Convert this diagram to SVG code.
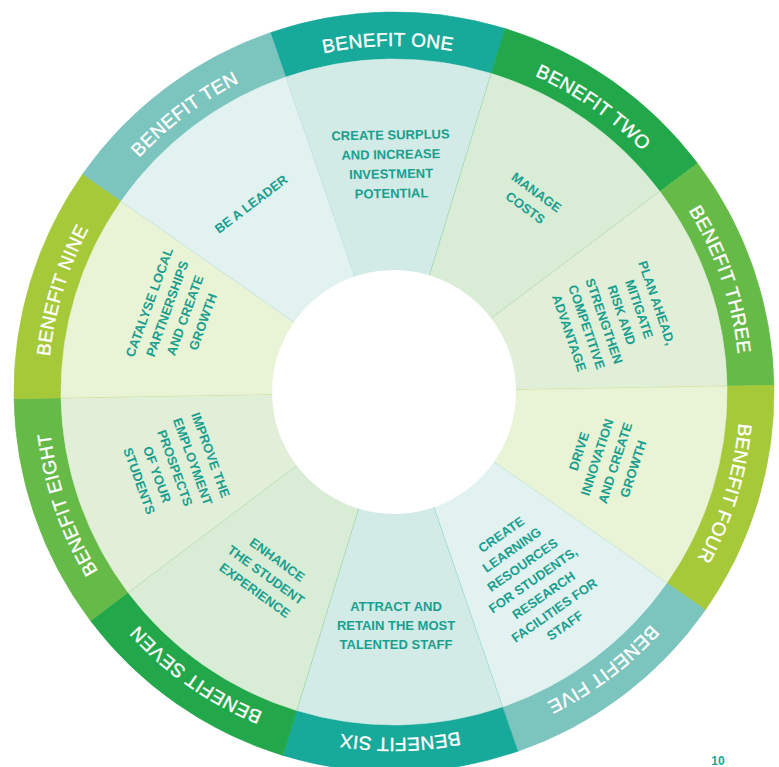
<svg xmlns="http://www.w3.org/2000/svg" xmlns:xlink="http://www.w3.org/1999/xlink" width="779" height="767" viewBox="0 0 779 767">
<style>
.lbl{font-family:"Liberation Sans",Arial,sans-serif;font-size:19px;fill:#ffffff;stroke:#ffffff;stroke-width:0.35;letter-spacing:0.3px;}
.txt{font-family:"Liberation Sans",Arial,sans-serif;font-size:13px;font-weight:bold;fill:#1a9f8f;text-anchor:middle;}
.c1{fill:#17a99a;stroke:#17a99a;stroke-width:0.6}
.c2{fill:#22a84a;stroke:#22a84a;stroke-width:0.6}
.c3{fill:#66ba48;stroke:#66ba48;stroke-width:0.6}
.c4{fill:#a6c93a;stroke:#a6c93a;stroke-width:0.6}
.c5{fill:#7cc4be;stroke:#7cc4be;stroke-width:0.6}
.w1{fill:#d2ebe7;stroke:#d2ebe7;stroke-width:0.6}
.w2{fill:#d8ecd6;stroke:#d8ecd6;stroke-width:0.6}
.w3{fill:#e1efd9;stroke:#e1efd9;stroke-width:0.6}
.w4{fill:#e9f3d6;stroke:#e9f3d6;stroke-width:0.6}
.w5{fill:#e2f2f1;stroke:#e2f2f1;stroke-width:0.6}
</style>
<defs>
<path id="seg" d="M394 392 L276.57 30.6 A380 380 0 0 1 511.43 30.6 Z"/>
<path id="wedge" d="M394 392 L291.1 75.3 A333 333 0 0 1 496.9 75.3 Z"/>
<path id="ringpath" d="M500.92 62.93 A346 346 0 0 1 287.08 721.07 A346 346 0 0 1 500.92 62.93"/>
</defs>
<rect width="779" height="767" fill="#ffffff"/>
<g transform="rotate(-1 394 392)">
<g id="benefit-one-shape"><use xlink:href="#seg" class="c1"/><use xlink:href="#wedge" class="w1"/></g>
<g id="benefit-two-shape"><use xlink:href="#seg" class="c2" transform="rotate(36 394 392)"/><use xlink:href="#wedge" class="w2" transform="rotate(36 394 392)"/></g>
<g id="benefit-three-shape"><use xlink:href="#seg" class="c3" transform="rotate(72 394 392)"/><use xlink:href="#wedge" class="w3" transform="rotate(72 394 392)"/></g>
<g id="benefit-four-shape"><use xlink:href="#seg" class="c4" transform="rotate(108 394 392)"/><use xlink:href="#wedge" class="w4" transform="rotate(108 394 392)"/></g>
<g id="benefit-five-shape"><use xlink:href="#seg" class="c5" transform="rotate(144 394 392)"/><use xlink:href="#wedge" class="w5" transform="rotate(144 394 392)"/></g>
<g id="benefit-six-shape"><use xlink:href="#seg" class="c1" transform="rotate(180 394 392)"/><use xlink:href="#wedge" class="w1" transform="rotate(180 394 392)"/></g>
<g id="benefit-seven-shape"><use xlink:href="#seg" class="c2" transform="rotate(216 394 392)"/><use xlink:href="#wedge" class="w2" transform="rotate(216 394 392)"/></g>
<g id="benefit-eight-shape"><use xlink:href="#seg" class="c3" transform="rotate(252 394 392)"/><use xlink:href="#wedge" class="w3" transform="rotate(252 394 392)"/></g>
<g id="benefit-nine-shape"><use xlink:href="#seg" class="c4" transform="rotate(288 394 392)"/><use xlink:href="#wedge" class="w4" transform="rotate(288 394 392)"/></g>
<g id="benefit-ten-shape"><use xlink:href="#seg" class="c5" transform="rotate(324 394 392)"/><use xlink:href="#wedge" class="w5" transform="rotate(324 394 392)"/></g>
<circle id="hub" cx="394" cy="392" r="122" fill="#ffffff"/>
<g id="ring-labels">
<text class="lbl"><textPath xlink:href="#ringpath" startOffset="95%" text-anchor="middle">BENEFIT ONE</textPath></text>
<text class="lbl"><textPath xlink:href="#ringpath" startOffset="5%" text-anchor="middle">BENEFIT TWO</textPath></text>
<text class="lbl"><textPath xlink:href="#ringpath" startOffset="15%" text-anchor="middle">BENEFIT THREE</textPath></text>
<text class="lbl"><textPath xlink:href="#ringpath" startOffset="25%" text-anchor="middle">BENEFIT FOUR</textPath></text>
<text class="lbl"><textPath xlink:href="#ringpath" startOffset="35%" text-anchor="middle">BENEFIT FIVE</textPath></text>
<text class="lbl"><textPath xlink:href="#ringpath" startOffset="45%" text-anchor="middle">BENEFIT SIX</textPath></text>
<text class="lbl"><textPath xlink:href="#ringpath" startOffset="55%" text-anchor="middle">BENEFIT SEVEN</textPath></text>
<text class="lbl"><textPath xlink:href="#ringpath" startOffset="65%" text-anchor="middle">BENEFIT EIGHT</textPath></text>
<text class="lbl"><textPath xlink:href="#ringpath" startOffset="75%" text-anchor="middle">BENEFIT NINE</textPath></text>
<text class="lbl"><textPath xlink:href="#ringpath" startOffset="85%" text-anchor="middle">BENEFIT TEN</textPath></text>
</g>
</g>
<g id="benefit-one-text" transform="translate(391 164) rotate(-1)"><text class="txt"><tspan x="0" y="-24.6">CREATE SURPLUS</tspan><tspan x="0" y="-5.1">AND INCREASE</tspan><tspan x="0" y="14.4">INVESTMENT</tspan><tspan x="0" y="33.9">POTENTIAL</tspan></text></g>
<g id="benefit-two-text" transform="translate(531 200) rotate(36)"><text class="txt"><tspan x="0" y="-4.9">MANAGE</tspan><tspan x="0" y="14.1">COSTS</tspan></text></g>
<g id="benefit-three-text" transform="translate(613 318) rotate(71)"><text class="txt"><tspan x="0" y="-41.65">PLAN AHEAD,</tspan><tspan x="0" y="-23.15">MITIGATE</tspan><tspan x="0" y="-4.65">RISK AND</tspan><tspan x="0" y="13.85">STRENGTHEN</tspan><tspan x="0" y="32.35">COMPETITIVE</tspan><tspan x="0" y="50.85">ADVANTAGE</tspan></text></g>
<g id="benefit-four-text" transform="translate(606 460) rotate(-72)"><text class="txt"><tspan x="0" y="-23.9">DRIVE</tspan><tspan x="0" y="-4.9">INNOVATION</tspan><tspan x="0" y="14.1">AND CREATE</tspan><tspan x="0" y="33.1">GROWTH</tspan></text></g>
<g id="benefit-five-text" transform="translate(533 580) rotate(-35)"><text class="txt"><tspan x="0" y="-50.9">CREATE</tspan><tspan x="0" y="-32.4">LEARNING</tspan><tspan x="0" y="-13.9">RESOURCES</tspan><tspan x="0" y="4.6">FOR STUDENTS,</tspan><tspan x="0" y="23.1">RESEARCH</tspan><tspan x="0" y="41.6">FACILITIES FOR</tspan><tspan x="0" y="60.1">STAFF</tspan></text></g>
<g id="benefit-six-text" transform="translate(396 625)"><text class="txt"><tspan x="0" y="-14.4">ATTRACT AND</tspan><tspan x="0" y="4.6">RETAIN THE MOST</tspan><tspan x="0" y="23.6">TALENTED STAFF</tspan></text></g>
<g id="benefit-seven-text" transform="translate(266 575) rotate(36)"><text class="txt"><tspan x="0" y="-14.4">ENHANCE</tspan><tspan x="0" y="4.6">THE STUDENT</tspan><tspan x="0" y="23.6">EXPERIENCE</tspan></text></g>
<g id="benefit-eight-text" transform="translate(175 468) rotate(70)"><text class="txt"><tspan x="0" y="-33.4">IMPROVE THE</tspan><tspan x="0" y="-14.4">EMPLOYMENT</tspan><tspan x="0" y="4.6">PROSPECTS</tspan><tspan x="0" y="23.6">OF YOUR</tspan><tspan x="0" y="42.6">STUDENTS</tspan></text></g>
<g id="benefit-nine-text" transform="translate(176 312) rotate(-70)"><text class="txt"><tspan x="0" y="-23.9">CATALYSE LOCAL</tspan><tspan x="0" y="-4.9">PARTNERSHIPS</tspan><tspan x="0" y="14.1">AND CREATE</tspan><tspan x="0" y="33.1">GROWTH</tspan></text></g>
<g id="benefit-ten-text" transform="translate(251 204) rotate(-37)"><text class="txt"><tspan x="0" y="4.6">BE A LEADER</tspan></text></g>
<g id="connectors"></g>
<text id="page-number" x="718" y="765" text-anchor="middle" font-family="'Liberation Sans',Arial,sans-serif" font-size="12" font-weight="bold" fill="#1aa88f">10</text>
</svg>
